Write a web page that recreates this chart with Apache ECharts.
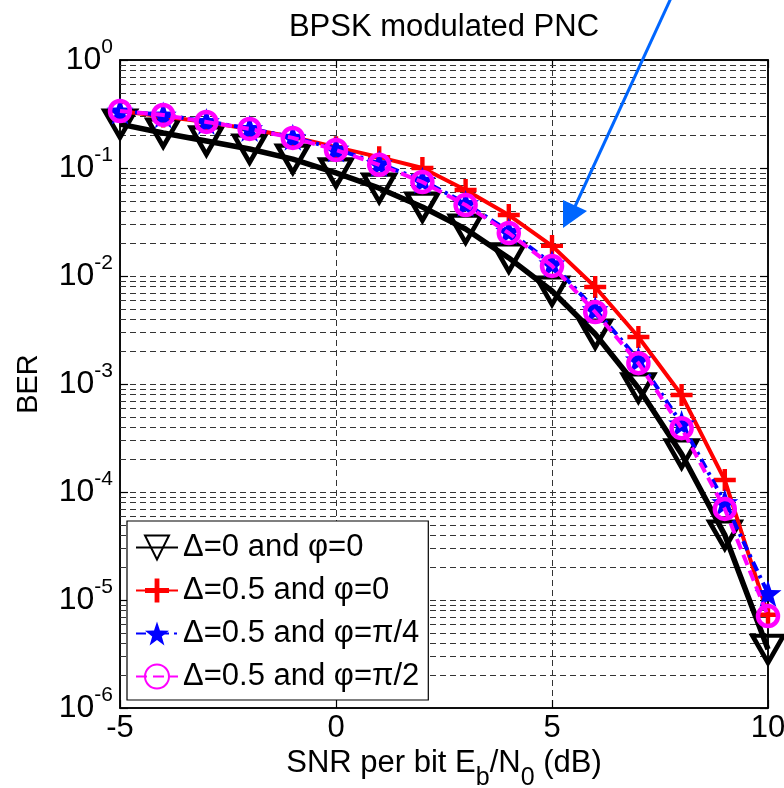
<!DOCTYPE html>
<html>
<head>
<meta charset="utf-8">
<script src="https://cdn.jsdelivr.net/npm/echarts@6/dist/echarts.min.js"></script>
<style>html,body{margin:0;padding:0;background:#fff;}#c{width:784px;height:788px;}</style>
</head>
<body>
<div id="c"></div>
<script>
// ---- data ----
const snr = [-5, -4, -3, -2, -1, 0, 1, 2, 3, 4, 5, 6, 7, 8, 9, 10];
const berD0P0 = [0.255, 0.211, 0.178, 0.15, 0.121, 0.09, 0.065, 0.0435, 0.0272, 0.0147, 0.00726, 0.0029, 0.00092, 0.000225, 0.00004, 0.0000035];
const berD05P0 = [0.337, 0.30, 0.267, 0.23, 0.194, 0.156, 0.126, 0.1, 0.0626, 0.0367, 0.019, 0.0079, 0.00272, 0.00079, 0.000129, 0.0000073];
const berD05P4 = [0.337, 0.31, 0.27, 0.232, 0.193, 0.15, 0.11, 0.077, 0.047, 0.026, 0.013, 0.0049, 0.00168, 0.00043, 0.00008, 0.0000115];
const berD05P2 = [0.337, 0.31, 0.267, 0.23, 0.19, 0.147, 0.107, 0.0742, 0.0454, 0.025, 0.0124, 0.00464, 0.00156, 0.00039, 0.0000697, 0.0000071];
const seriesNames = ['\u0394=0 and \u03c6=0', '\u0394=0.5 and \u03c6=0', '\u0394=0.5 and \u03c6=\u03c0/4', '\u0394=0.5 and \u03c6=\u03c0/2'];
const xTicks = [-5, 0, 5, 10];
const yTickExponents = [0, -1, -2, -3, -4, -5, -6];
const minorMantissas = [2, 3, 4, 5, 6, 7, 8, 9];
const titleText = 'BPSK modulated PNC';

// minor grid values (2..9 x 10^d)
const minorVals = [];
yTickExponents.forEach(e => { if (e < 0) minorMantissas.forEach(k => minorVals.push(k * Math.pow(10, e))); });

function pairs(ys) { return snr.map((x, i) => [x, ys[i]]); }

// marker shapes
let sp = [];
for (let i = 0; i < 10; i++) {
  const r = (i % 2 === 0) ? 10 : 4;
  const a = -Math.PI / 2 + i * Math.PI / 5;
  sp.push((r * Math.cos(a)).toFixed(3) + ',' + (r * Math.sin(a)).toFixed(3));
}
const starPath = 'path://M' + sp.join(' L') + ' Z';
const plusPath = 'path://M-1,-5 L1,-5 L1,-1 L5,-1 L5,1 L1,1 L1,5 L-1,5 L-1,1 L-5,1 L-5,-1 L-1,-1 Z';
const triPath = 'path://M-10,0 L10,0 L0,17 Z';

const FONT = '"Liberation Sans", Arial, Helvetica, sans-serif';
const chart = echarts.init(document.getElementById('c'), null, {renderer: 'canvas'});

const gridLineStyle = {color: '#333', width: 1, type: [6, 4]};

const option = {
  animation: false,
  backgroundColor: '#fff',
  textStyle: {fontFamily: FONT, color: '#000'},
  title: {
    text: titleText, left: 439, top: 7, textAlign: 'center',
    textStyle: {fontFamily: FONT, fontSize: 31, fontWeight: 'normal', color: '#000'}
  },
  grid: {left: 120, right: 16, top: 60, bottom: 80, containLabel: false, outerBoundsMode: 'none',
    show: true, borderColor: '#000', borderWidth: 1.5, backgroundColor: 'transparent'},
  legend: {
    orient: 'vertical', left: 127, top: 521,
    padding: [11, 9, 8, 8],
    itemWidth: 42, itemHeight: 30, itemGap: 12,
    backgroundColor: '#fff', borderColor: '#000', borderWidth: 1.2, borderRadius: 0,
    selectedMode: false,
    data: seriesNames,
    textStyle: {fontFamily: FONT, fontSize: 31, lineHeight: 30, color: '#000'}
  },
  xAxis: [{
    type: 'value', min: -5, max: 10, interval: 5,
    axisLine: {show: true, onZero: false, lineStyle: {color: '#000', width: 1.5}},
    axisTick: {show: true, inside: true, length: 8, lineStyle: {color: '#000', width: 1.2}},
    axisLabel: {fontFamily: FONT, fontSize: 31, color: '#000', margin: 5, hideOverlap: false,
      formatter: v => xTicks.indexOf(v) >= 0 ? String(v) : ''},
    splitLine: {show: true, lineStyle: gridLineStyle},
    name: '{n|SNR per bit E}{s|b}{n|/N}{s|0}{n| (dB)}',
    nameLocation: 'middle', nameGap: 40, nameMoveOverlap: false,
    nameTextStyle: {
      rich: {
        n: {fontFamily: FONT, fontSize: 31, lineHeight: 31, verticalAlign: 'top', color: '#000'},
        s: {fontFamily: FONT, fontSize: 25, lineHeight: 43, verticalAlign: 'bottom', color: '#000'}
      }
    }
  }, {
    type: 'value', min: -5, max: 10, interval: 5, position: 'top',
    axisLine: {show: true, onZero: false, lineStyle: {color: '#000', width: 1.5}},
    axisTick: {show: true, inside: true, length: 8, lineStyle: {color: '#000', width: 1.2}},
    axisLabel: {show: false}, splitLine: {show: false}
  }],
  yAxis: [{
    type: 'log', logBase: 10, min: 1e-6, max: 1, splitNumber: 6,
    axisLine: {show: true, onZero: false, lineStyle: {color: '#000', width: 1.5}},
    axisTick: {show: true, inside: true, length: 8, lineStyle: {color: '#000', width: 1.2}},
    axisLabel: {
      margin: 7, hideOverlap: false,
      formatter: v => {
        const e = Math.round(Math.log10(v));
        if (yTickExponents.indexOf(e) < 0) return '';
        return '{b|10}{e|' + e + '}';
      },
      rich: {
        b: {fontFamily: FONT, fontSize: 32, lineHeight: 46, verticalAlign: 'middle', color: '#000'},
        e: {fontFamily: FONT, fontSize: 21, lineHeight: 21, verticalAlign: 'top', color: '#000'}
      }
    },
    splitLine: {show: true, lineStyle: gridLineStyle},
    name: 'BER', nameLocation: 'middle', nameGap: 77, nameRotate: 90, nameMoveOverlap: false,
    nameTextStyle: {fontFamily: FONT, fontSize: 29, color: '#000'}
  }, {
    type: 'log', logBase: 10, min: 1e-6, max: 1, splitNumber: 6, position: 'right',
    axisLine: {show: true, onZero: false, lineStyle: {color: '#000', width: 1.5}},
    axisTick: {show: true, inside: true, length: 8, lineStyle: {color: '#000', width: 1.2}},
    axisLabel: {show: false}, splitLine: {show: false}
  }],
  series: [
    {
      type: 'custom', name: 'minorgrid', z: 1, silent: true,
      data: minorVals.map(v => [snr[0], v]),
      encode: {x: 0, y: 1},
      renderItem: (params, api) => {
        const p = api.coord([api.value(0), api.value(1)]);
        const cs = params.coordSys;
        const y = Math.round(p[1]) + 0.5;
        return {type: 'line', silent: true,
          shape: {x1: cs.x, y1: y, x2: cs.x + cs.width, y2: y},
          style: {stroke: '#333', lineWidth: 1, lineDash: [6, 4]}};
      }
    },
    {
      type: 'line', name: seriesNames[0], data: pairs(berD0P0), z: 3,
      symbol: triPath, symbolSize: [31, 27], symbolKeepAspect: false,
      lineStyle: {color: '#000', width: 5.5, type: 'solid'},
      itemStyle: {color: 'rgba(0,0,0,0)', borderColor: '#000', borderWidth: 4.5}
    },
    {
      type: 'line', name: seriesNames[1], data: pairs(berD05P0), z: 4,
      symbol: plusPath, symbolSize: 22,
      lineStyle: {color: '#ff0000', width: 4, type: 'solid'},
      itemStyle: {color: '#ff0000', borderWidth: 0}
    },
    {
      type: 'line', name: seriesNames[2], data: pairs(berD05P4), z: 5,
      symbol: starPath, symbolSize: 27,
      lineStyle: {color: '#0000ff', width: 4, type: [10, 5, 3, 5]},
      itemStyle: {color: '#0000ff', borderWidth: 0}
    },
    {
      type: 'line', name: seriesNames[3], data: pairs(berD05P2), z: 6,
      symbol: 'circle', symbolSize: 20,
      lineStyle: {color: '#ff00ff', width: 4, type: [11, 6]},
      itemStyle: {color: 'rgba(0,0,0,0)', borderColor: '#ff00ff', borderWidth: 4.5}
    }
  ],
  graphic: [
    {type: 'polyline', z: 100, shape: {points: [[671, -2], [572, 213]]}, style: {stroke: '#0066ff', lineWidth: 3, fill: null}},
    {type: 'polygon', z: 100, shape: {points: [[563, 200], [587, 211], [563, 228]]}, style: {fill: '#0066ff'}}
  ]
};
chart.setOption(option);
</script>
</body>
</html>
